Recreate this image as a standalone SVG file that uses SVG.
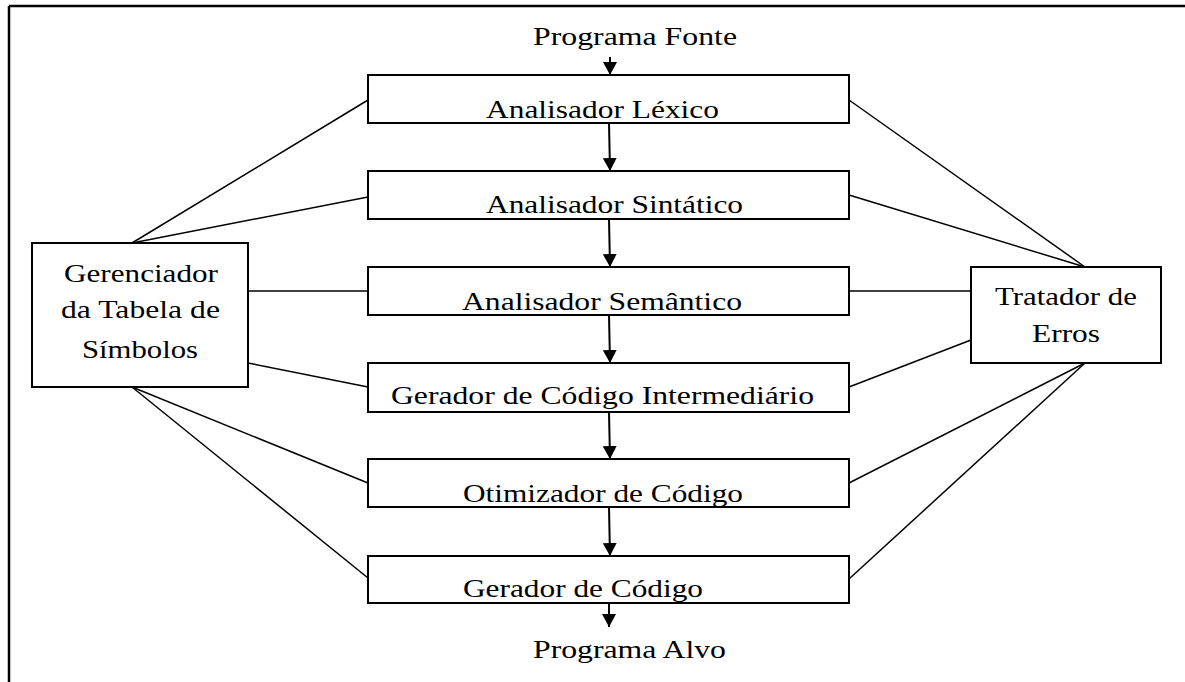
<svg xmlns="http://www.w3.org/2000/svg" width="1185" height="682" viewBox="0 0 1185 682">
<defs>
<style>
.box{fill:#fff;stroke:#000;stroke-width:2}
.ln{stroke:#000;stroke-width:1.5;fill:none}
.ar{stroke:#000;stroke-width:2;fill:none}
text{font-family:"Liberation Serif","Times New Roman",serif;font-size:26px;fill:#000}
</style>
<marker id="ah" markerWidth="13" markerHeight="14" refX="13" refY="7" orient="auto" markerUnits="userSpaceOnUse" viewBox="0 0 13 14">
<path d="M0,0 L13,7 L0,14 Z" fill="#000"/>
</marker>
</defs>
<rect width="1185" height="682" fill="#fff"/>
<g id="frame">
<line x1="9" y1="6" x2="1185" y2="6" stroke="#000" stroke-width="2.5"/>
<line x1="9" y1="6" x2="9" y2="682" stroke="#000" stroke-width="2.5"/>
</g>
<g id="connectors">
<line class="ar" x1="610" y1="57" x2="610" y2="75" marker-end="url(#ah)"/>
<line class="ar" x1="609" y1="123" x2="610" y2="171" marker-end="url(#ah)"/>
<line class="ar" x1="609" y1="219" x2="610" y2="267" marker-end="url(#ah)"/>
<line class="ar" x1="609" y1="315" x2="610" y2="363" marker-end="url(#ah)"/>
<line class="ar" x1="609" y1="412" x2="610" y2="459" marker-end="url(#ah)"/>
<line class="ar" x1="609" y1="507" x2="610" y2="556" marker-end="url(#ah)"/>
<line class="ar" x1="609" y1="603" x2="609" y2="627" marker-end="url(#ah)"/>
<line class="ln" x1="132" y1="243" x2="368" y2="100"/>
<line class="ln" x1="132" y1="243" x2="368" y2="197"/>
<line class="ln" x1="248" y1="291" x2="368" y2="291"/>
<line class="ln" x1="248" y1="363" x2="368" y2="387"/>
<line class="ln" x1="132" y1="387" x2="368" y2="483"/>
<line class="ln" x1="132" y1="387" x2="368" y2="578"/>
<line class="ln" x1="849" y1="100" x2="1085" y2="267"/>
<line class="ln" x1="849" y1="195" x2="1085" y2="267"/>
<line class="ln" x1="849" y1="291" x2="971" y2="291"/>
<line class="ln" x1="849" y1="387" x2="971" y2="340"/>
<line class="ln" x1="849" y1="483" x2="1085" y2="363"/>
<line class="ln" x1="849" y1="579" x2="1085" y2="363"/>
</g>
<g id="src"><text x="533" y="45" textLength="204" lengthAdjust="spacingAndGlyphs">Programa Fonte</text></g>
<g id="lexico"><rect class="box" x="368" y="75" width="481" height="48"/><text x="486" y="118" textLength="233" lengthAdjust="spacingAndGlyphs">Analisador Léxico</text></g>
<g id="sintatico"><rect class="box" x="368" y="171" width="481" height="48"/><text x="486" y="213" textLength="257" lengthAdjust="spacingAndGlyphs">Analisador Sintático</text></g>
<g id="semantico"><rect class="box" x="368" y="267" width="481" height="48"/><text x="462" y="310" textLength="280" lengthAdjust="spacingAndGlyphs">Analisador Semântico</text></g>
<g id="intermediario"><rect class="box" x="368" y="363" width="481" height="49"/><text x="391" y="404" textLength="423" lengthAdjust="spacingAndGlyphs">Gerador de Código Intermediário</text></g>
<g id="otimizador"><rect class="box" x="368" y="459" width="481" height="48"/><text x="463" y="502" textLength="280" lengthAdjust="spacingAndGlyphs">Otimizador de Código</text></g>
<g id="gerador"><rect class="box" x="368" y="556" width="481" height="47"/><text x="463" y="597" textLength="240" lengthAdjust="spacingAndGlyphs">Gerador de Código</text></g>
<g id="alvo"><text x="533" y="658" textLength="193" lengthAdjust="spacingAndGlyphs">Programa Alvo</text></g>
<g id="tabela"><rect class="box" x="32" y="243" width="216" height="144"/>
<text x="64" y="282" textLength="154" lengthAdjust="spacingAndGlyphs">Gerenciador</text>
<text x="61" y="318" textLength="159" lengthAdjust="spacingAndGlyphs">da Tabela de</text>
<text x="82" y="358" textLength="116" lengthAdjust="spacingAndGlyphs">Símbolos</text></g>
<g id="erros"><rect class="box" x="971" y="267" width="190" height="96"/>
<text x="995" y="305" textLength="142" lengthAdjust="spacingAndGlyphs">Tratador de</text>
<text x="1032" y="342" textLength="68" lengthAdjust="spacingAndGlyphs">Erros</text></g>
</svg>
